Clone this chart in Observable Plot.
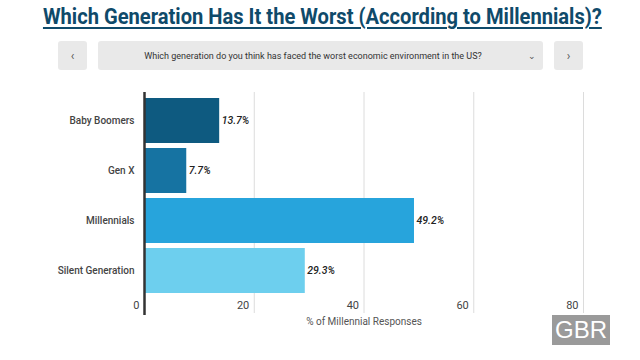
<!DOCTYPE html>
<html>
<head>
<meta charset="utf-8">
<script src="https://cdn.jsdelivr.net/npm/d3@7"></script>
<script src="https://cdn.jsdelivr.net/npm/@observablehq/plot@0.6"></script>
<style>
  html, body { margin: 0; padding: 0; background: #fff; width: 640px; height: 360px; overflow: hidden; font-family: Roboto, sans-serif; }
  #wrap { position: relative; width: 640px; height: 360px; }
  #title { position: absolute; left: 0; top: 4px; width: 644px; text-align: center; }
  #title span { display: inline-block; font-weight: 700; font-size: 22px; color: #0f4a6a; text-decoration: underline; text-decoration-thickness: 2px; text-underline-offset: 3px; transform: scaleX(0.915); transform-origin: center; white-space: nowrap; }
  .btn { position: absolute; top: 41px; height: 29px; background: #e9e9e9; border-radius: 3px; color: #555; font-size: 12px; display: flex; align-items: center; justify-content: center; }
  #prev { left: 58px; width: 29px; }
  #next { left: 554px; width: 29px; }
  #q { left: 98px; width: 445px; font-size: 9px; color: #333; }
  #q .txt { position: absolute; left: 5px; width: 420px; text-align: center; white-space: nowrap; }
  #q .chev { position: absolute; left: 430px; font-size: 9px; color: #555; }
  #chart { position: absolute; left: 0; top: 80px; }
  #gbr { position: absolute; left: 552px; top: 315px; width: 58px; height: 30px; background: #9a9a9a; color: #fff; font-family: "Liberation Sans", Arial, sans-serif; font-size: 24px; line-height: 30px; text-align: center; }
</style>
</head>
<body>
<div id="wrap">
  <div id="title"><span>Which Generation Has It the Worst (According to Millennials)?</span></div>
  <div class="btn" id="prev">&#8249;</div>
  <div class="btn" id="q"><span class="txt">Which generation do you think has faced the worst economic environment in the US?</span><span class="chev">&#8964;</span></div>
  <div class="btn" id="next">&#8250;</div>
  <div id="chart"></div>
  <div id="gbr">GBR</div>
</div>
<script>
const categories = ["Baby Boomers", "Gen X", "Millennials", "Silent Generation"];
const values = [13.7, 7.7, 49.2, 29.3];
const colors = ["#0e5a80", "#1673a2", "#27a4dc", "#6dcfee"];
const xTicks = [0, 20, 40, 60, 80];
const gridTicks = [20, 40, 60, 80];
const xLabel = "% of Millennial Responses";

const data = categories.map((c, i) => ({category: c, value: values[i], color: colors[i]}));

const chart = Plot.plot({
  width: 640,
  height: 260,
  marginTop: 11,
  marginBottom: 41,
  marginLeft: 144,
  marginRight: 57,
  style: {fontFamily: "Roboto, sans-serif", background: "transparent"},
  x: {domain: [0, 80], axis: null},
  y: {domain: categories, padding: 0.1, label: null},
  marks: [
    Plot.ruleX(gridTicks, {x: d => d, stroke: "#dcdcdc", strokeWidth: 1, insetTop: 1, insetBottom: -14}),
    Plot.barX(data, {y: "category", x: "value", fill: "color"}),
    Plot.ruleX([0], {stroke: "#333", strokeWidth: 2.5, insetTop: 1, insetBottom: -16}),
    Plot.axisY({tickSize: 0, tickPadding: 10, fontSize: 10, fontWeight: 500, color: "#444", label: null}),
    Plot.text(data, {y: "category", x: "value", text: d => d.value.toFixed(1) + "%", textAnchor: "start", dx: 2, fontSize: 10.5, fontWeight: 500, fontStyle: "italic", fill: "#222"}),
    Plot.text(xTicks, {x: d => d, text: d => String(d), frameAnchor: "bottom", dy: 9, textAnchor: "end", dx: -5, fontSize: 11, fill: "#444"}),
    Plot.text([xLabel], {text: d => d, frameAnchor: "bottom", dy: 25, fontSize: 10, fill: "#555"})
  ]
});
document.getElementById("chart").appendChild(chart);
</script>
</body>
</html>
